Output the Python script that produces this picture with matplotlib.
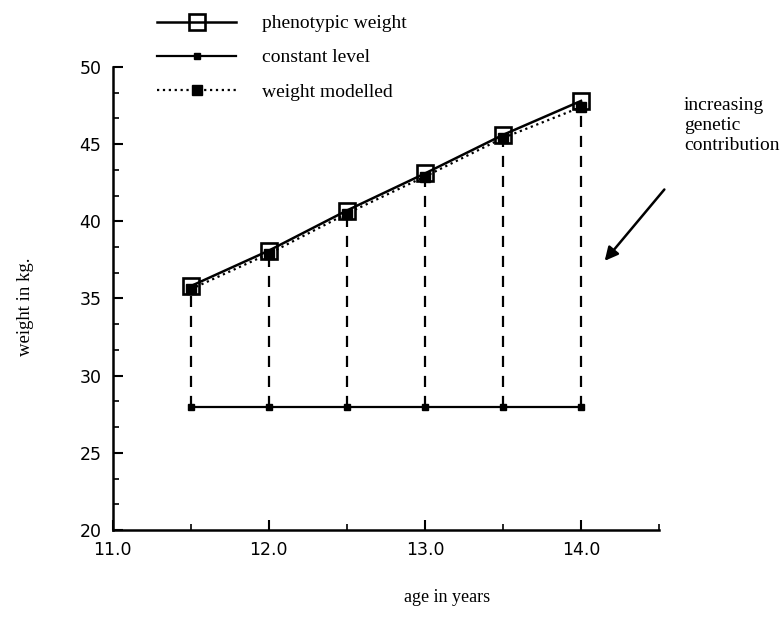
import matplotlib
matplotlib.use('Agg')
import matplotlib.pyplot as plt
from matplotlib.ticker import MultipleLocator, AutoMinorLocator

# values
age = [11.5, 12.0, 12.5, 13.0, 13.5, 14.0]
phenotypic = [35.8, 38.1, 40.7, 43.1, 45.6, 47.8]
modelled = [35.6, 37.9, 40.5, 42.9, 45.4, 47.4]
constant = [28.0, 28.0, 28.0, 28.0, 28.0, 28.0]

serif = 'Liberation Serif'
sans = 'DejaVu Sans'

fig = plt.figure(figsize=(7.84, 6.23), dpi=100)
ax = fig.add_axes([0.1437, 0.1493, 0.697, 0.7432])

# dashed drop lines from constant level to modelled weight
ax.vlines(age, constant, modelled, colors='black', linestyles=(0, (5, 4)), linewidth=1.6)

ax.plot(age, phenotypic, color='black', linewidth=1.8, marker='s', markersize=11.5,
        markerfacecolor='none', markeredgewidth=1.9, label='phenotypic weight', zorder=4)
ax.plot(age, constant, color='black', linewidth=1.6, marker='s', markersize=4,
        label='constant level', zorder=3)
ax.plot(age, modelled, color='black', linewidth=1.6, linestyle=':', marker='s',
        markersize=7, label='weight modelled', zorder=3)

ax.set_xlim(11.0, 14.5)
ax.set_ylim(20, 50)
ax.spines['top'].set_visible(False)
ax.spines['right'].set_visible(False)
ax.spines['left'].set_linewidth(1.8)
ax.spines['bottom'].set_linewidth(1.8)

ax.xaxis.set_minor_locator(MultipleLocator(0.5))
ax.yaxis.set_major_locator(MultipleLocator(5))
ax.yaxis.set_minor_locator(AutoMinorLocator(3))
ax.set_xticks([11.0, 12.0, 13.0, 14.0])
ax.set_xticklabels(['11.0', '12.0', '13.0', '14.0'])
ax.tick_params(axis='both', which='major', direction='in', length=7, width=1.5,
               labelsize=12.5, pad=8)
ax.tick_params(axis='both', which='minor', direction='in', length=4, width=1.2)
for lab in ax.get_xticklabels() + ax.get_yticklabels():
    lab.set_fontfamily(sans)

fig.text(447 / 784, 1 - 598 / 623, 'age in years', family=serif, fontsize=13,
         ha='center', va='center')
fig.text(25 / 784, 1 - 307 / 623, 'weight in kg.', family=serif, fontsize=13.5,
         ha='center', va='center', rotation=90)

ax.legend(loc='upper left', bbox_to_anchor=(147 / 784, 1 - 5 / 623),
          bbox_transform=fig.transFigure, frameon=False,
          prop={'family': serif, 'size': 14}, handlelength=4.1,
          handletextpad=1.3, labelspacing=0.85, borderpad=0)

ax.annotate('', xy=(14.14, 37.3), xytext=(14.545, 42.2),
            arrowprops=dict(arrowstyle='-|>', color='black', lw=1.8,
                            mutation_scale=20), annotation_clip=False)
fig.text(684 / 784, 1 - 97 / 623, 'increasing\ngenetic\ncontribution', family=serif,
         fontsize=14, ha='left', va='top', linespacing=1.25)

fig.savefig('out.png', dpi=100)
